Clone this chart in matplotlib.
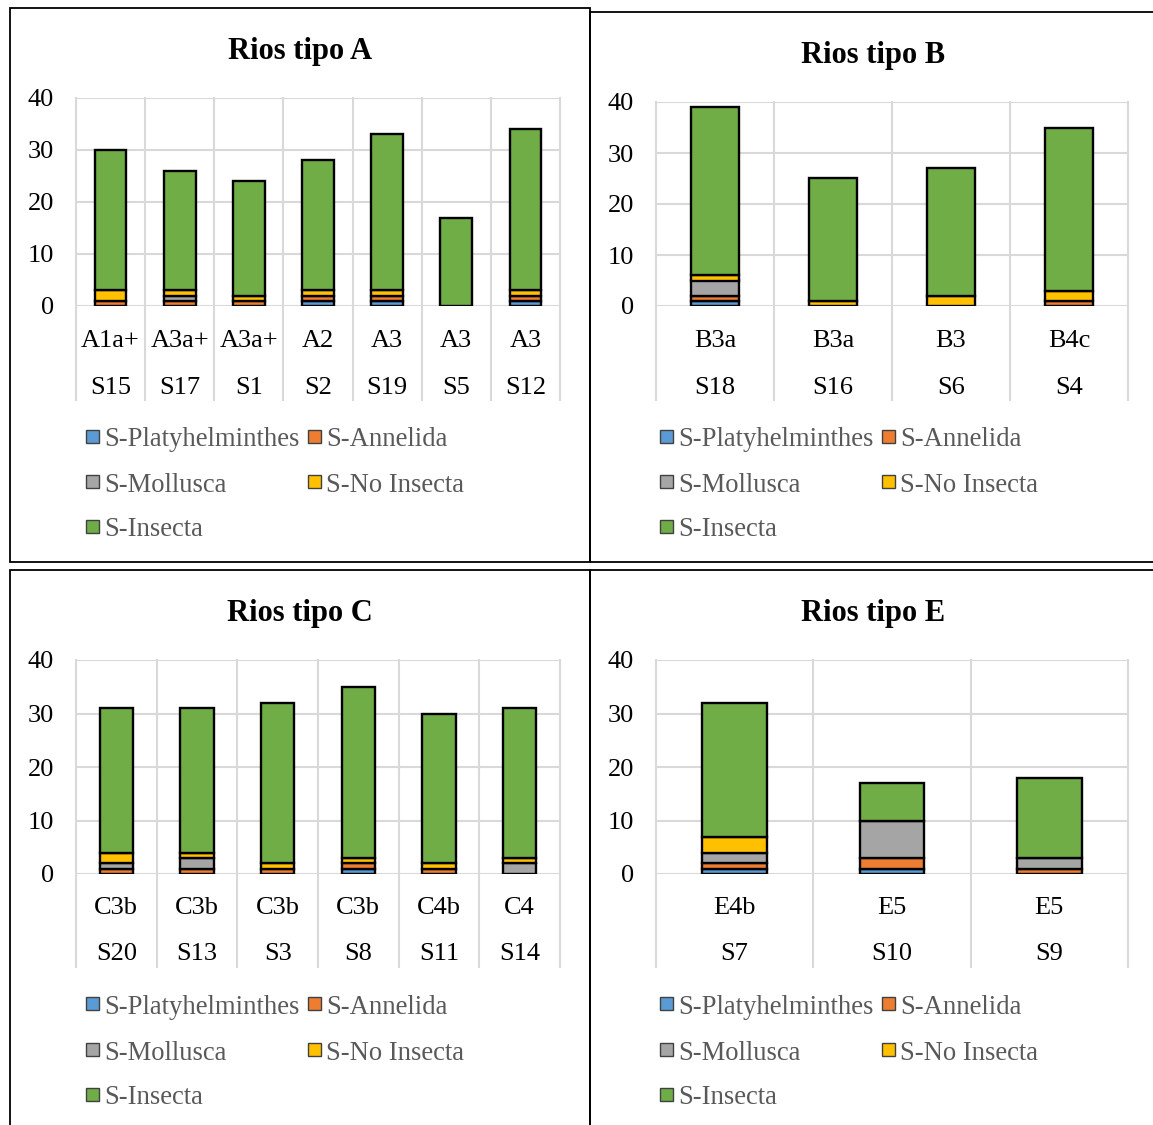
import matplotlib
matplotlib.use("Agg")
import matplotlib.pyplot as plt
from matplotlib.patches import Rectangle
import numpy as np

plt.rcParams['font.family'] = ['Liberation Serif', 'DejaVu Serif']

W, H = 1153, 1125

series_names = ["S-Platyhelminthes", "S-Annelida", "S-Mollusca", "S-No Insecta", "S-Insecta"]
series_colors = ["#5B9BD5", "#ED7D31", "#A5A5A5", "#FFC000", "#70AD47"]

# Rios tipo A
a_types = ["A1a+", "A3a+", "A3a+", "A2", "A3", "A3", "A3"]
a_sites = ["S15", "S17", "S1", "S2", "S19", "S5", "S12"]
a_platy = [0, 0, 0, 1, 1, 0, 1]
a_annel = [1, 1, 1, 1, 1, 0, 1]
a_mollu = [0, 1, 0, 0, 0, 0, 0]
a_noins = [2, 1, 1, 1, 1, 0, 1]
a_insec = [27, 23, 22, 25, 30, 17, 31]

# Rios tipo B
b_types = ["B3a", "B3a", "B3", "B4c"]
b_sites = ["S18", "S16", "S6", "S4"]
b_platy = [1, 0, 0, 0]
b_annel = [1, 0, 0, 1]
b_mollu = [3, 0, 0, 0]
b_noins = [1, 1, 2, 2]
b_insec = [33, 24, 25, 32]

# Rios tipo C
c_types = ["C3b", "C3b", "C3b", "C3b", "C4b", "C4"]
c_sites = ["S20", "S13", "S3", "S8", "S11", "S14"]
c_platy = [0, 0, 0, 1, 0, 0]
c_annel = [1, 1, 1, 1, 1, 0]
c_mollu = [1, 2, 0, 0, 0, 2]
c_noins = [2, 1, 1, 1, 1, 1]
c_insec = [27, 27, 30, 32, 28, 28]

# Rios tipo E
e_types = ["E4b", "E5", "E5"]
e_sites = ["S7", "S10", "S9"]
e_platy = [1, 1, 0]
e_annel = [1, 2, 1]
e_mollu = [2, 7, 2]
e_noins = [3, 0, 0]
e_insec = [25, 7, 15]

y_ticks = [0, 10, 20, 30, 40]

fig = plt.figure(figsize=(W / 100, H / 100), dpi=100)


def fx(px):
    return px / W


def fy(py):
    return 1 - py / H


def panel(title, types, sites, values, box, plot, title_xy, rows_y, leg_y, leg_x, bar_w):
    # panel frame
    bx0, by0, bx1, by1 = box
    fig.add_artist(Rectangle((fx(bx0), fy(by1)), fx(bx1 - bx0), (by1 - by0) / H,
                             transform=fig.transFigure, fill=False,
                             edgecolor="black", linewidth=1.3, clip_on=False))
    l, t, r, b = plot
    ax = fig.add_axes([fx(l), fy(b), fx(r - l), (b - t) / H])
    n = len(types)
    x = np.arange(n)
    bottom = np.zeros(n)
    for vals, col in zip(values, series_colors):
        vals = np.array(vals, dtype=float)
        mask = vals > 0
        ax.bar(x[mask], vals[mask], bar_w, bottom=bottom[mask], color=col,
               edgecolor="black", linewidth=1.7, zorder=3)
        bottom += vals
    ax.set_xlim(-0.5, n - 0.5)
    ax.set_ylim(0, 40)
    ax.set_yticks(y_ticks)
    ax.tick_params(axis="y", length=0, labelsize=19, pad=16)
    for lab in ax.get_yticklabels():
        lab.set_va("center_baseline")
    ax.set_xticks([])
    for s in ax.spines.values():
        s.set_visible(False)
    for yv in y_ticks:
        ax.axhline(yv, color="#D9D9D9", linewidth=1.5, zorder=1)
    ext = (rows_y[1] + 15 - b) / (b - t)
    for k in range(n + 1):
        ax.axvline(k - 0.5, ymin=-ext, ymax=1, color="#D9D9D9", linewidth=1.5,
                   clip_on=False, zorder=1)
    for i in range(n):
        fig.text(fx(l + (i + 0.5) * (r - l) / n), fy(rows_y[0]), types[i],
                 ha="center", va="center_baseline", fontsize=19)
        fig.text(fx(l + (i + 0.5) * (r - l) / n), fy(rows_y[1]), sites[i],
                 ha="center", va="center_baseline", fontsize=19)
    fig.text(fx(title_xy[0]), fy(title_xy[1]), title,
             ha="center", va="center_baseline", fontsize=22, fontweight="bold")
    # legend
    slots = [(0, 0), (1, 0), (0, 1), (1, 1), (0, 2)]
    for (c, rr), name, col in zip(slots, series_names, series_colors):
        mx = leg_x[c]
        my = leg_y[rr]
        fig.add_artist(Rectangle((fx(mx), fy(my + 6)), fx(13), 13 / H,
                                 transform=fig.transFigure, facecolor=col,
                                 edgecolor="#404040", linewidth=1.0))
        fig.text(fx(mx + 18), fy(my), name, ha="left", va="center_baseline",
                 fontsize=19.2, color="#595959")
    return ax


panel("Rios tipo A", a_types, a_sites,
      [a_platy, a_annel, a_mollu, a_noins, a_insec],
      box=(10, 8, 590, 562), plot=(76, 98, 560, 306), title_xy=(300, 48),
      rows_y=(338, 385), leg_y=(437, 482, 527), leg_x=(86, 308), bar_w=0.46)

panel("Rios tipo B", b_types, b_sites,
      [b_platy, b_annel, b_mollu, b_noins, b_insec],
      box=(590, 12, 1160, 562), plot=(656, 102, 1128, 306), title_xy=(873, 52),
      rows_y=(338, 385), leg_y=(437, 482, 527), leg_x=(660, 882), bar_w=0.41)

panel("Rios tipo C", c_types, c_sites,
      [c_platy, c_annel, c_mollu, c_noins, c_insec],
      box=(10, 570, 590, 1130), plot=(76, 660, 560, 874), title_xy=(300, 610),
      rows_y=(905, 952), leg_y=(1004, 1050, 1095), leg_x=(86, 308), bar_w=0.41)

panel("Rios tipo E", e_types, e_sites,
      [e_platy, e_annel, e_mollu, e_noins, e_insec],
      box=(590, 570, 1160, 1130), plot=(656, 660, 1128, 874), title_xy=(873, 610),
      rows_y=(905, 952), leg_y=(1004, 1050, 1095), leg_x=(660, 882), bar_w=0.41)

fig.savefig("out.png", dpi=100, facecolor="white")
